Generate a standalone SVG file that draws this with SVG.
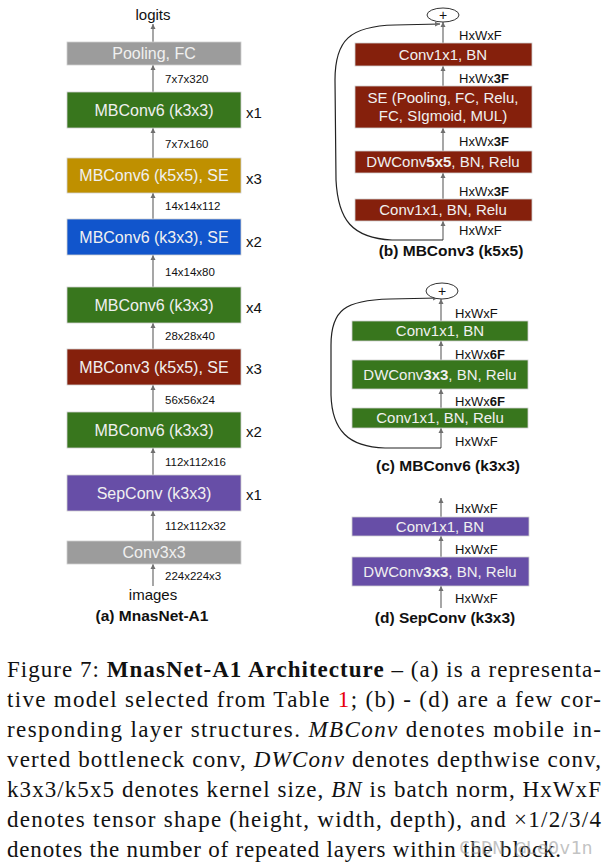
<svg xmlns="http://www.w3.org/2000/svg" width="609" height="864" viewBox="0 0 609 864">
<defs>
<marker id="ah" viewBox="0 0 10 10" refX="10" refY="5" markerWidth="5" markerHeight="6" markerUnits="userSpaceOnUse" orient="auto">
<path d="M0,0 L10,5 L0,10 z" fill="#6f6f6f"/>
</marker>
<style>
.bx{stroke:#d0d0d0;stroke-width:0.8}
.gray{fill:#9c9c9c}
.green{fill:#38761d}
.gold{fill:#bf9000}
.blue{fill:#1155cc}
.red{fill:#85200c}
.purple{fill:#674ea7}
.bt{font-family:"Liberation Sans",Arial,sans-serif;font-size:16px;fill:#f0f0f0;text-anchor:middle}
.rt{font-family:"Liberation Sans",Arial,sans-serif;font-size:15px;fill:#f0f0f0;text-anchor:middle}
.dim{font-family:"Liberation Sans",Arial,sans-serif;font-size:11.5px;fill:#111}
.rep{font-family:"Liberation Sans",Arial,sans-serif;font-size:15px;fill:#111}
.hw{font-family:"Liberation Sans",Arial,sans-serif;font-size:13px;fill:#111}
.lbl{font-family:"Liberation Sans",Arial,sans-serif;font-size:15px;fill:#111;text-anchor:middle}
.cap{font-family:"Liberation Sans",Arial,sans-serif;font-size:15.5px;font-weight:bold;fill:#111;text-anchor:middle}
.ar{stroke:#777;stroke-width:1.3;fill:none;marker-end:url(#ah)}
.loop{stroke:#222;stroke-width:1.2;fill:none;marker-end:url(#ah)}
.plus{fill:#fff;stroke:#333;stroke-width:1}
.pt{font-family:"Liberation Sans",Arial,sans-serif;font-size:14px;fill:#111;text-anchor:middle}
.fig{font-family:"Liberation Serif","Times New Roman",serif;font-size:23px;fill:#111}
</style>
</defs>

<g id="connectors">
<!-- (a) -->
<line class="ar" x1="153" y1="42" x2="153" y2="24"/>
<line class="ar" x1="153" y1="92" x2="153" y2="65"/>
<line class="ar" x1="153" y1="158" x2="153" y2="128"/>
<line class="ar" x1="153" y1="219" x2="153" y2="193"/>
<line class="ar" x1="153" y1="287" x2="153" y2="255"/>
<line class="ar" x1="153" y1="349" x2="153" y2="323"/>
<line class="ar" x1="153" y1="412" x2="153" y2="385"/>
<line class="ar" x1="153" y1="475" x2="153" y2="448"/>
<line class="ar" x1="153" y1="541" x2="153" y2="511"/>
<line class="ar" x1="153" y1="586" x2="153" y2="564"/>
<!-- (b) -->
<line class="ar" x1="443" y1="43" x2="443" y2="22"/>
<line class="ar" x1="443" y1="86" x2="443" y2="66"/>
<line class="ar" x1="443" y1="151" x2="443" y2="128"/>
<line class="ar" x1="443" y1="199" x2="443" y2="173"/>
<line class="ar" x1="443" y1="240" x2="443" y2="221"/>
<path class="loop" d="M443,240 L392,240 C352,238 338,220 336,180 L335,80 C335,40 350,26 395,25 L440,24"/>
<!-- (c) -->
<line class="ar" x1="441" y1="321" x2="441" y2="299"/>
<line class="ar" x1="441" y1="360" x2="441" y2="341"/>
<line class="ar" x1="441" y1="408" x2="441" y2="389"/>
<line class="ar" x1="441" y1="448" x2="441" y2="428"/>
<path class="loop" d="M441,448 L385,448 C348,447 332,430 331,395 L331,345 C331,310 345,300 390,299 L438,298"/>
<!-- (d) -->
<line class="ar" x1="441" y1="517" x2="441" y2="498"/>
<line class="ar" x1="441" y1="557" x2="441" y2="536"/>
<line class="ar" x1="441" y1="608" x2="441" y2="586"/>
</g>

<!-- (a) MnasNet-A1 -->
<g id="logits"><text class="lbl" x="153" y="20">logits</text></g>
<g id="a-pool"><rect class="bx gray" x="67" y="42" width="174" height="23"/><text class="bt" x="154" y="59">Pooling, FC</text></g>
<g id="a-mb6-1"><rect class="bx green" x="67" y="92" width="174" height="36"/><text class="bt" x="154" y="116">MBConv6 (k3x3)</text><text class="rep" x="246" y="118">x1</text></g>
<g id="a-mb6-k5"><rect class="bx gold" x="67" y="158" width="174" height="35"/><text class="bt" x="154" y="181">MBConv6 (k5x5), SE</text><text class="rep" x="246" y="184">x3</text></g>
<g id="a-mb6-k3se"><rect class="bx blue" x="67" y="219" width="174" height="36"/><text class="bt" x="154" y="243">MBConv6 (k3x3), SE</text><text class="rep" x="246" y="247">x2</text></g>
<g id="a-mb6-4"><rect class="bx green" x="67" y="287" width="174" height="36"/><text class="bt" x="154" y="311">MBConv6 (k3x3)</text><text class="rep" x="246" y="313">x4</text></g>
<g id="a-mb3"><rect class="bx red" x="67" y="349" width="174" height="36"/><text class="bt" x="154" y="373">MBConv3 (k5x5), SE</text><text class="rep" x="246" y="374">x3</text></g>
<g id="a-mb6-2"><rect class="bx green" x="67" y="412" width="174" height="36"/><text class="bt" x="154" y="436">MBConv6 (k3x3)</text><text class="rep" x="246" y="437">x2</text></g>
<g id="a-sep"><rect class="bx purple" x="67" y="475" width="174" height="36"/><text class="bt" x="154" y="499">SepConv (k3x3)</text><text class="rep" x="246" y="500">x1</text></g>
<g id="a-conv"><rect class="bx gray" x="67" y="541" width="174" height="23"/><text class="bt" x="154" y="558">Conv3x3</text></g>
<g id="images"><text class="lbl" x="153" y="600">images</text></g>
<g id="a-dims">
<text class="dim" x="165" y="83">7x7x320</text>
<text class="dim" x="165" y="148">7x7x160</text>
<text class="dim" x="165" y="210">14x14x112</text>
<text class="dim" x="165" y="276">14x14x80</text>
<text class="dim" x="165" y="340">28x28x40</text>
<text class="dim" x="165" y="404">56x56x24</text>
<text class="dim" x="165" y="466">112x112x16</text>
<text class="dim" x="165" y="530">112x112x32</text>
<text class="dim" x="165" y="580">224x224x3</text>
</g>
<g id="a-caption"><text class="cap" x="152" y="621">(a) MnasNet-A1</text></g>

<!-- (b) MBConv3 -->
<g id="b-plus"><ellipse class="plus" cx="443" cy="15" rx="16" ry="7"/><text class="pt" x="443" y="20">+</text></g>
<g id="b-c1"><rect class="bx red" x="355" y="43" width="177" height="23"/><text class="rt" x="443" y="60">Conv1x1, BN</text></g>
<g id="b-se"><rect class="bx red" x="355" y="86" width="177" height="42"/><text class="rt" x="443" y="103">SE (Pooling, FC, Relu,</text><text class="rt" x="443" y="121">FC, SIgmoid, MUL)</text></g>
<g id="b-dw"><rect class="bx red" x="355" y="151" width="177" height="22"/><text class="rt" x="443" y="167">DWConv<tspan font-weight="bold">5x5</tspan>, BN, Relu</text></g>
<g id="b-c0"><rect class="bx red" x="355" y="199" width="177" height="22"/><text class="rt" x="443" y="215">Conv1x1, BN, Relu</text></g>
<g id="b-dims">
<text class="hw" x="459" y="40">HxWxF</text>
<text class="hw" x="459" y="83">HxWx<tspan font-weight="bold">3F</tspan></text>
<text class="hw" x="459" y="146">HxWx<tspan font-weight="bold">3F</tspan></text>
<text class="hw" x="459" y="196">HxWx<tspan font-weight="bold">3F</tspan></text>
<text class="hw" x="459" y="235">HxWxF</text>
</g>
<g id="b-caption"><text class="cap" x="451" y="256">(b) MBConv3 (k5x5)</text></g>

<!-- (c) MBConv6 -->
<g id="c-plus"><ellipse class="plus" cx="442" cy="291" rx="16" ry="8"/><text class="pt" x="442" y="296">+</text></g>
<g id="c-c1"><rect class="bx green" x="352" y="321" width="176" height="20"/><text class="rt" x="440" y="336">Conv1x1, BN</text></g>
<g id="c-dw"><rect class="bx green" x="352" y="360" width="176" height="29"/><text class="rt" x="440" y="380">DWConv<tspan font-weight="bold">3x3</tspan>, BN, Relu</text></g>
<g id="c-c0"><rect class="bx green" x="352" y="408" width="176" height="20"/><text class="rt" x="440" y="423">Conv1x1, BN, Relu</text></g>
<g id="c-dims">
<text class="hw" x="455" y="318">HxWxF</text>
<text class="hw" x="455" y="359">HxWx<tspan font-weight="bold">6F</tspan></text>
<text class="hw" x="455" y="406">HxWx<tspan font-weight="bold">6F</tspan></text>
<text class="hw" x="455" y="446">HxWxF</text>
</g>
<g id="c-caption"><text class="cap" x="448" y="471">(c) MBConv6 (k3x3)</text></g>

<!-- (d) SepConv -->
<g id="d-c1"><rect class="bx purple" x="352" y="517" width="177" height="19"/><text class="rt" x="440" y="532">Conv1x1, BN</text></g>
<g id="d-dw"><rect class="bx purple" x="352" y="557" width="177" height="29"/><text class="rt" x="440" y="577">DWConv<tspan font-weight="bold">3x3</tspan>, BN, Relu</text></g>
<g id="d-dims">
<text class="hw" x="455" y="513">HxWxF</text>
<text class="hw" x="455" y="554">HxWxF</text>
<text class="hw" x="455" y="603">HxWxF</text>
</g>
<g id="d-caption"><text class="cap" x="445" y="623">(d) SepConv (k3x3)</text></g>

<!-- Figure caption -->
<g id="figure-caption">
<text class="fig" x="7" y="677" textLength="594" lengthAdjust="spacing">Figure 7: <tspan font-weight="bold">MnasNet-A1 Architecture</tspan> – (a) is a representa-</text>
<text class="fig" x="7" y="707" textLength="594" lengthAdjust="spacing">tive model selected from Table <tspan fill="#e8000b">1</tspan>; (b) - (d) are a few cor-</text>
<text class="fig" x="7" y="737" textLength="594" lengthAdjust="spacing">responding layer structures.  <tspan font-style="italic">MBConv</tspan> denotes mobile in-</text>
<text class="fig" x="7" y="767" textLength="594" lengthAdjust="spacing">verted bottleneck conv, <tspan font-style="italic">DWConv</tspan> denotes depthwise conv,</text>
<text class="fig" x="7" y="797" textLength="594" lengthAdjust="spacing">k3x3/k5x5 denotes kernel size, <tspan font-style="italic">BN</tspan> is batch norm, HxWxF</text>
<text class="fig" x="7" y="827" textLength="594" lengthAdjust="spacing">denotes tensor shape (height, width, depth), and ×1/2/3/4</text>
<text class="fig" x="7" y="857" textLength="554" lengthAdjust="spacing">denotes the number of repeated layers within the block.</text>
</g>
<g id="watermark"><text x="459" y="854" font-family="'DejaVu Sans Mono',monospace" font-size="18.5" fill="#9a9a9a" fill-opacity="0.6">CSDN @Le0v1n</text></g>
</svg>
